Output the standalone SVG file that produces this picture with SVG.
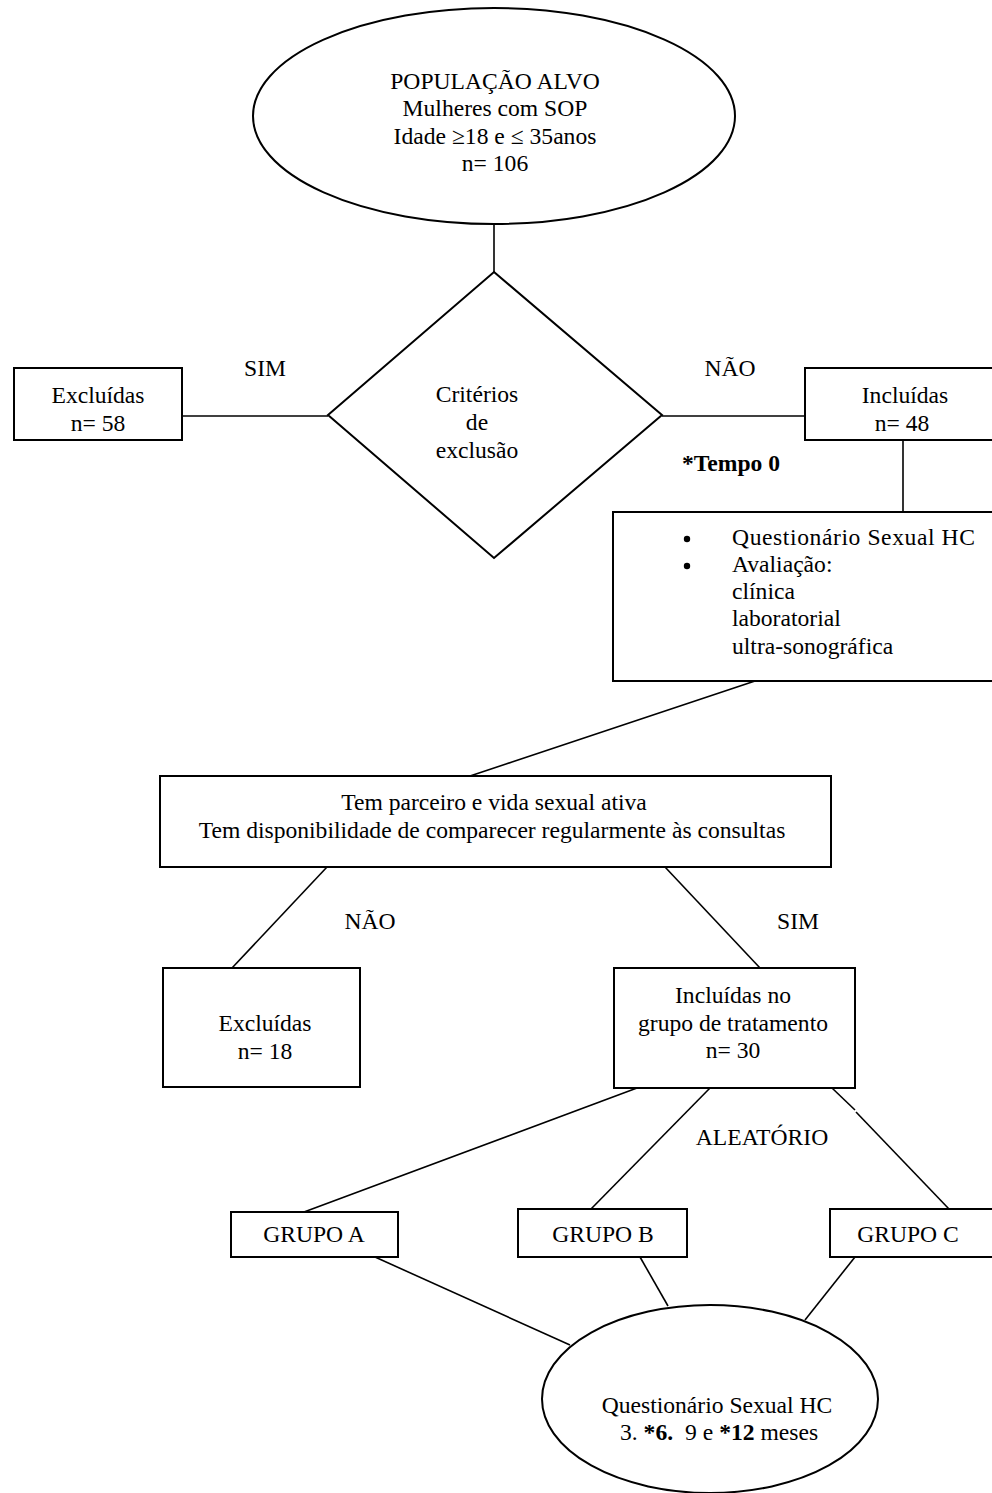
<svg xmlns="http://www.w3.org/2000/svg" width="992" height="1493" viewBox="0 0 992 1493">
<style>
.s{fill:#fff;stroke:#000;stroke-width:2}
.c{fill:none;stroke:#000;stroke-width:1.6}
text{font-family:"Liberation Serif","Times New Roman",serif;font-size:23.6px;fill:#000}
.m{text-anchor:middle}
.b{font-weight:bold}
</style>
<rect width="992" height="1493" fill="#fff"/>
<g id="connectors">
<line class="c" x1="494" y1="224" x2="494" y2="272"/>
<line class="c" x1="182" y1="416" x2="328" y2="416"/>
<line class="c" x1="662" y1="416" x2="805" y2="416"/>
<line class="c" x1="903" y1="440" x2="903" y2="512"/>
<line class="c" x1="755" y1="681" x2="470" y2="776"/>
<line class="c" x1="327" y1="867" x2="232" y2="968"/>
<line class="c" x1="665" y1="867" x2="760" y2="968"/>
<line class="c" x1="637" y1="1088" x2="304" y2="1212"/>
<line class="c" x1="710" y1="1088" x2="591" y2="1209"/>
<line class="c" x1="832" y1="1088" x2="855" y2="1110"/>
<line class="c" x1="856" y1="1112" x2="949" y2="1209"/>
<line class="c" x1="375" y1="1257" x2="570" y2="1345"/>
<line class="c" x1="640" y1="1257" x2="668" y2="1306"/>
<line class="c" x1="855" y1="1257" x2="805" y2="1320"/>
<text x="265" y="376" class="m">SIM</text>
<text x="730" y="376" class="m">NÃO</text>
<text x="682" y="471" class="b">*Tempo 0</text>
<text x="370" y="929" class="m">NÃO</text>
<text x="798" y="929" class="m">SIM</text>
<text x="762" y="1145" class="m">ALEATÓRIO</text>
</g>
<g id="populacao">
<ellipse class="s" cx="494" cy="116" rx="241" ry="108"/>
<text x="495" y="89" class="m">POPULAÇÃO ALVO</text>
<text x="495" y="116" class="m">Mulheres com SOP</text>
<text x="495" y="144" class="m">Idade ≥18 e ≤ 35anos</text>
<text x="495" y="171" class="m">n= 106</text>
</g>
<g id="criterios">
<polygon class="s" points="494,272 662,415 494,558 328,415"/>
<text x="477" y="402" class="m">Critérios</text>
<text x="477" y="430" class="m">de</text>
<text x="477" y="458" class="m">exclusão</text>
</g>
<g id="excluidas58">
<rect class="s" x="14" y="368" width="168" height="72"/>
<text x="98" y="403" class="m">Excluídas</text>
<text x="98" y="431" class="m">n= 58</text>
</g>
<g id="incluidas48">
<rect class="s" x="805" y="368" width="195" height="72"/>
<text x="905" y="403" class="m">Incluídas</text>
<text x="902" y="431" class="m">n= 48</text>
</g>
<g id="avaliacao">
<rect class="s" x="613" y="512" width="390" height="169"/>
<circle cx="687" cy="539" r="3.2"/>
<circle cx="687" cy="566" r="3.2"/>
<text x="732" y="545" textLength="243" lengthAdjust="spacing">Questionário Sexual HC</text>
<text x="732" y="572">Avaliação:</text>
<text x="732" y="599">clínica</text>
<text x="732" y="626">laboratorial</text>
<text x="732" y="654">ultra-sonográfica</text>
</g>
<g id="parceiro">
<rect class="s" x="160" y="776" width="671" height="91"/>
<text x="494" y="810" class="m">Tem parceiro e vida sexual ativa</text>
<text x="492" y="838" class="m">Tem disponibilidade de comparecer regularmente às consultas</text>
</g>
<g id="excluidas18">
<rect class="s" x="163" y="968" width="197" height="119"/>
<text x="265" y="1031" class="m">Excluídas</text>
<text x="265" y="1059" class="m">n= 18</text>
</g>
<g id="incluidas30">
<rect class="s" x="614" y="968" width="241" height="120"/>
<text x="733" y="1003" class="m">Incluídas no</text>
<text x="733" y="1031" class="m">grupo de tratamento</text>
<text x="733" y="1058" class="m">n= 30</text>
</g>
<g id="grupoA">
<rect class="s" x="231" y="1212" width="167" height="45"/>
<text x="314" y="1242" class="m">GRUPO A</text>
</g>
<g id="grupoB">
<rect class="s" x="518" y="1209" width="169" height="48"/>
<text x="603" y="1242" class="m">GRUPO B</text>
</g>
<g id="grupoC">
<rect class="s" x="830" y="1209" width="170" height="48"/>
<text x="908" y="1242" class="m">GRUPO C</text>
</g>
<g id="questionario">
<ellipse class="s" cx="710" cy="1399" rx="168" ry="94"/>
<text x="717" y="1413" class="m">Questionário Sexual HC</text>
<text x="620" y="1440">3. <tspan class="b">*6.</tspan><tspan dx="12">9 e </tspan><tspan class="b">*12</tspan> meses</text>
</g>
</svg>
